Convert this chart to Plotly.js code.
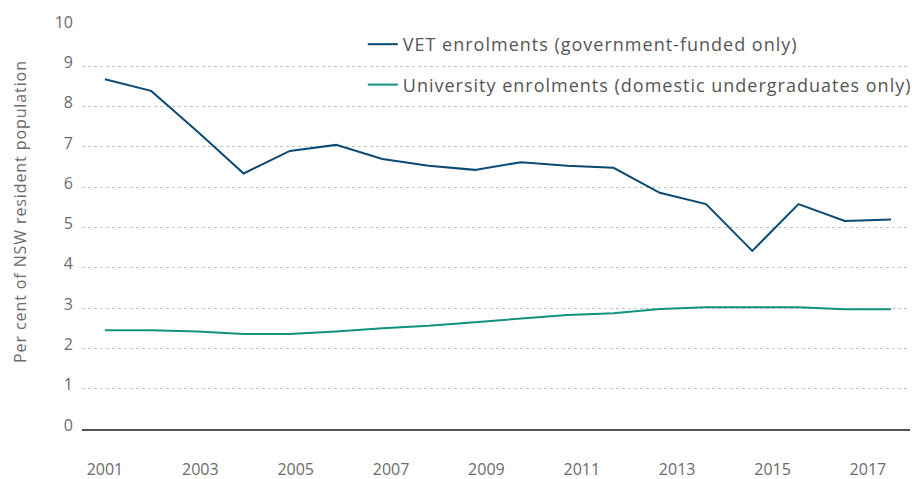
<!DOCTYPE html>
<html>
<head>
<meta charset="utf-8">
<script src="https://cdn.plot.ly/plotly-3.0.1.min.js"></script>
<style>
html,body{margin:0;padding:0;background:#fff;}
#chart{width:912px;height:479px;}
#chart .legendtext{letter-spacing:1px;}
#chart .legend .scrollbox{clip-path:none !important;}
#chart .annotation-text{letter-spacing:0.9px;}
</style>
</head>
<body>
<div id="chart"></div>
<script>
// Data
const years = [2001,2002,2003,2004,2005,2006,2007,2008,2009,2010,2011,2012,2013,2014,2015,2016,2017,2018];
const vetEnrolments = [8.68,8.39,7.38,6.34,6.90,7.05,6.70,6.53,6.43,6.62,6.53,6.48,5.86,5.58,4.42,5.58,5.16,5.20];
const uniEnrolments = [2.45,2.45,2.42,2.36,2.36,2.42,2.50,2.56,2.65,2.74,2.83,2.87,2.98,3.02,3.02,3.02,2.97,2.97];
const tickLabels = ['2001','2003','2005','2007','2009','2011','2013','2015','2017'];
const yTicks = [0,1,2,3,4,5,6,7,8,9,10];
const yTitle = 'Per cent of NSW resident population';

// label spacing in the reference is slightly wider than the data spacing
const labelStretch = 47.8 / 46.35;
const tickPositions = tickLabels.map(t => years[0] + (Number(t) - years[0]) * labelStretch);

const fontFam = '"Open Sans", Lato, sans-serif';
const grey = '#6b6b6b';

const traces = [
  {x: years, y: vetEnrolments, type: 'scatter', mode: 'lines',
   name: 'VET enrolments (government-funded only)', legendgroup: 'a',
   line: {color: '#0b4a75', width: 2}},
  {x: years, y: uniEnrolments, type: 'scatter', mode: 'lines',
   name: 'University enrolments (domestic undergraduates only)', legendgroup: 'b',
   line: {color: '#12937f', width: 2}}
];

const layout = {
  width: 912, height: 479,
  margin: {l: 82, r: 2, t: 26, b: 50},
  paper_bgcolor: '#fff', plot_bgcolor: '#fff',
  font: {family: fontFam, color: grey, size: 15},
  showlegend: true,
  legend: {x: 0.3391, y: 1.0, xanchor: 'left', yanchor: 'top', bgcolor: 'rgba(0,0,0,0)',
           font: {size: 18, color: '#555', family: fontFam}, traceorder: 'grouped', tracegroupgap: 14},
  xaxis: {range: [2000.504, 2018.411], tickmode: 'array', tickvals: tickPositions, ticktext: tickLabels,
          showgrid: false, zeroline: false, showline: true, linecolor: '#555', linewidth: 1.5,
          ticks: 'outside', ticklen: 25, tickcolor: 'rgba(0,0,0,0)',
          tickfont: {size: 16, color: grey}},
  yaxis: {range: [0, 10], tickmode: 'array', tickvals: yTicks,
          showgrid: true, gridcolor: '#c4c4c4', griddash: 'dot', gridwidth: 1,
          zeroline: false, showline: false, ticks: '', ticklabelstandoff: 8, ticklabelshift: -4,
          tickfont: {size: 16, color: grey}},
  annotations: [{text: yTitle, xref: 'paper', yref: 'paper', x: 0, y: 0.538,
                 xanchor: 'center', yanchor: 'middle', xshift: -62, textangle: -90,
                 showarrow: false, font: {size: 16, color: grey, family: fontFam}}]
};

Plotly.newPlot('chart', traces, layout, {displayModeBar: false, staticPlot: true});
</script>
</body>
</html>
